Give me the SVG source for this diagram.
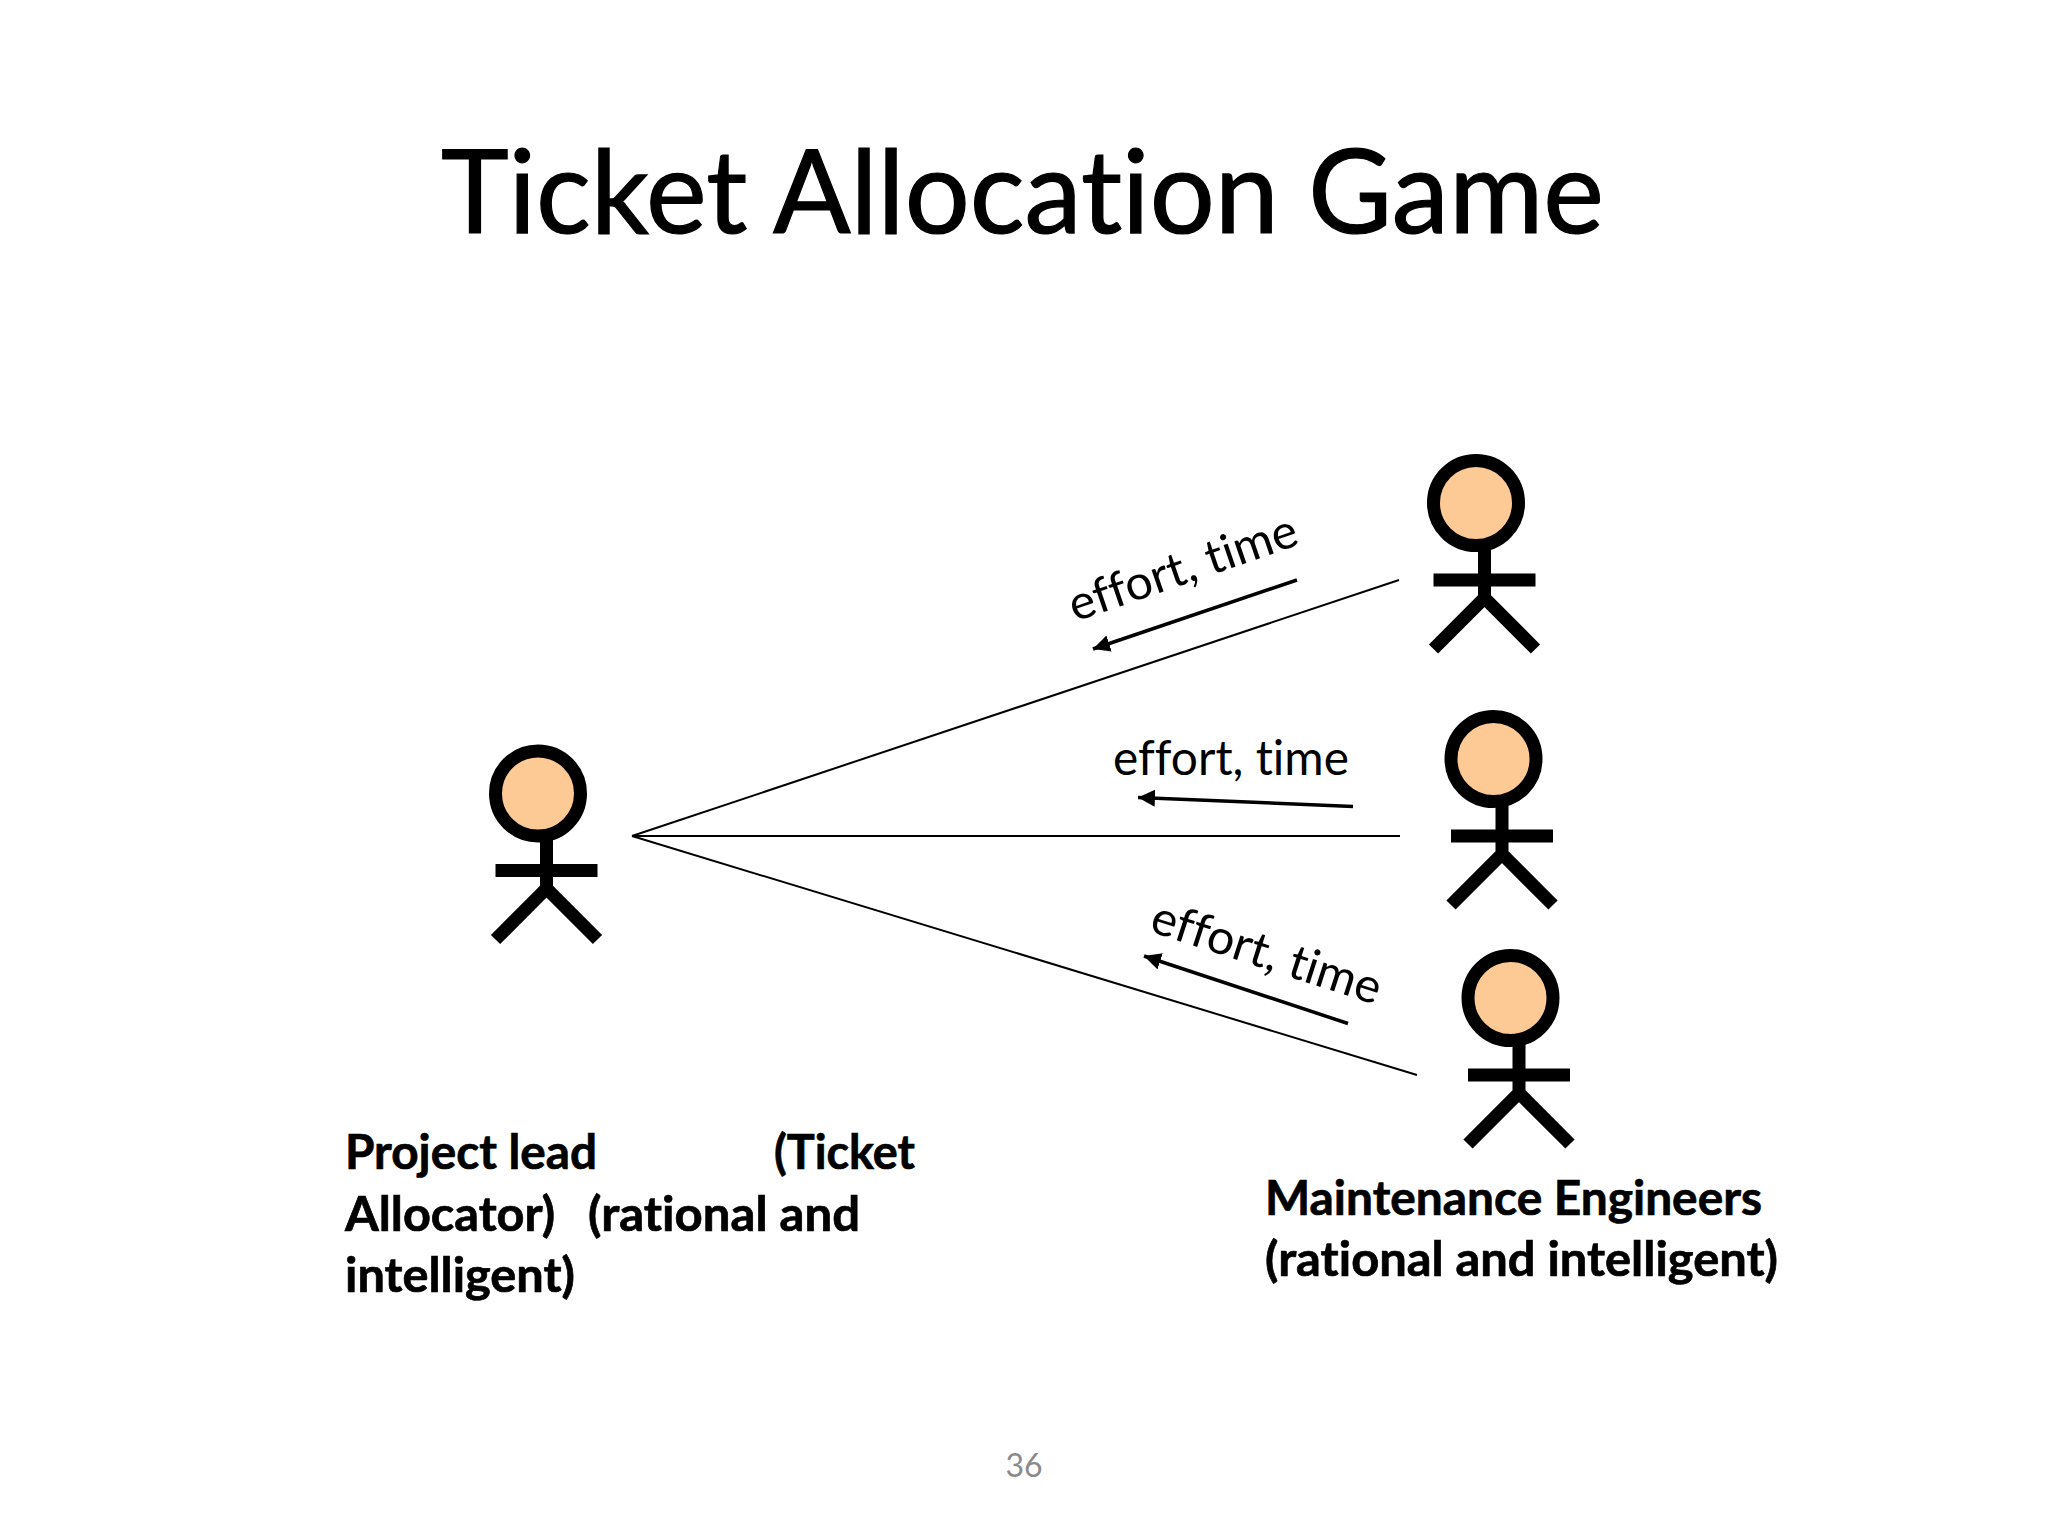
<svg xmlns="http://www.w3.org/2000/svg" width="2048" height="1536" viewBox="0 0 2048 1536">
<style>
.head{fill:#fdc994;stroke:#000;stroke-width:13}
.limb{fill:none;stroke:#000;stroke-width:13;stroke-linejoin:miter}
.link{stroke:#000;stroke-width:2;fill:none}
.flow{stroke:#000;stroke-width:3.5;fill:none;marker-end:url(#ah)}
text{font-family:"Lato","Carlito","Liberation Sans",sans-serif;fill:#000;font-variant-ligatures:none}
.lbl{font-size:48px}
.b{font-size:48px;font-weight:700;stroke:#000;stroke-width:.7}
#title{stroke:#000;stroke-width:1.2}
</style>
<defs>
<marker id="ah" markerUnits="userSpaceOnUse" markerWidth="20" markerHeight="18" refX="17" refY="8.5" orient="auto"><path d="M0 0L17 8.5L0 17Z" fill="#000"/></marker>
<g id="actor"><circle class="head" cx="0" cy="0" r="42.5"/><path class="limb" d="M8.5 42V100M-42.5 77H59.5M-42.5 146L8.5 95L59.5 146"/></g>
</defs>
<rect width="2048" height="1536" fill="#fff"/>
<text id="title" x="441" y="233" font-size="117" textLength="1163" lengthAdjust="spacingAndGlyphs">Ticket Allocation Game</text>
<g id="connectors">
<path class="link" d="M632 836L1399 580M632 836H1400M632 836L1417 1075"/>
<path class="flow" d="M1297 580L1093 649"/>
<path class="flow" d="M1353 806.500L1138 797.500"/>
<path class="flow" d="M1348 1023.500L1144 956"/>
</g>
<g id="lead"><use href="#actor" x="538" y="793.500"/></g>
<g id="eng1"><use href="#actor" x="1476" y="503"/></g>
<g id="eng2"><use href="#actor" x="1493.500" y="759"/></g>
<g id="eng3"><use href="#actor" x="1510.500" y="998"/></g>
<g id="labels">
<text class="lbl" transform="translate(1075 622) rotate(-19)" textLength="239" lengthAdjust="spacingAndGlyphs">effort, time</text>
<text class="lbl" x="1113" y="775" textLength="236" lengthAdjust="spacingAndGlyphs">effort, time</text>
<text class="lbl" transform="translate(1148 931) rotate(18)" textLength="239" lengthAdjust="spacingAndGlyphs">effort, time</text>
<text class="b" x="345" y="1168.500" textLength="252" lengthAdjust="spacingAndGlyphs">Project lead</text>
<text class="b" x="774" y="1168.500" textLength="141" lengthAdjust="spacingAndGlyphs">(Ticket</text>
<text class="b" x="345" y="1230.500" textLength="210" lengthAdjust="spacingAndGlyphs">Allocator)</text>
<text class="b" x="588" y="1230.500" textLength="272" lengthAdjust="spacingAndGlyphs">(rational and</text>
<text class="b" x="345" y="1291.500" textLength="230" lengthAdjust="spacingAndGlyphs">intelligent)</text>
<text class="b" x="1265" y="1214.500" textLength="497" lengthAdjust="spacingAndGlyphs">Maintenance Engineers</text>
<text class="b" x="1265" y="1275.500" textLength="513" lengthAdjust="spacingAndGlyphs">(rational and intelligent)</text>
<text x="1024" y="1477" font-size="32" text-anchor="middle" style="fill:#8b8b8b">36</text>
</g>
</svg>
